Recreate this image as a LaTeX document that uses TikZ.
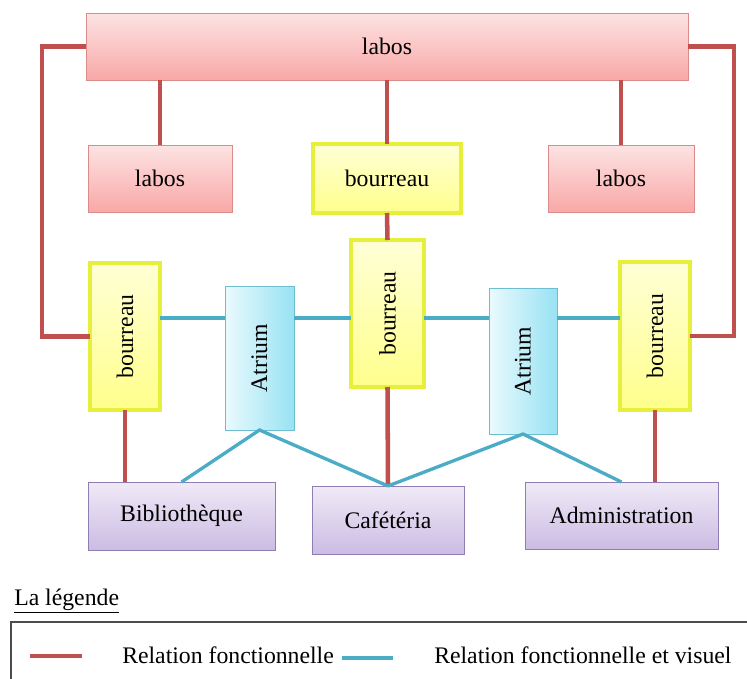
\documentclass[tikz,border=0pt]{standalone}
\usepackage{fontspec}
\setmainfont{Liberation Serif}
\usepackage{graphicx}
\usetikzlibrary{shadows}
\definecolor{rouge}{HTML}{C0504D}
\definecolor{bleu}{HTML}{4BACC6}
\definecolor{rose1}{HTML}{FDE3E3}
\definecolor{rose2}{HTML}{F8A8A7}
\definecolor{roseb}{HTML}{D98C8A}
\definecolor{jaune1}{HTML}{FFFFD6}
\definecolor{jaune2}{HTML}{FFFF8C}
\definecolor{jauneb}{HTML}{E6F03C}
\definecolor{cyan1}{HTML}{EAFAFD}
\definecolor{cyan2}{HTML}{98E2F3}
\definecolor{mauve1}{HTML}{F0EAF7}
\definecolor{mauve2}{HTML}{CBBCE3}
\definecolor{mauveb}{HTML}{8F7DB3}
\tikzset{
  texte/.style={font=\fontsize{17.8}{20}\selectfont},
  box/.style={texte, inner sep=0pt, outer sep=0pt,
    drop shadow={opacity=0.22, shadow xshift=1pt, shadow yshift=-1pt}},
  sz/.style 2 args={minimum width=#1*0.75pt, minimum height=#2*0.75pt},
  labo/.style={box, draw=roseb, line width=0.7pt, top color=rose1, bottom color=rose2},
  bourreau/.style={box, draw=jauneb, line width=2.4pt, top color=jaune1, bottom color=jaune2},
  atrium/.style={box, draw=bleu!80, line width=0.7pt, left color=cyan1, right color=cyan2},
  service/.style={box, draw=mauveb, line width=0.7pt, top color=mauve1, bottom color=mauve2},
  fonct/.style={draw=rouge, line width=3.4pt},
  visu/.style={draw=bleu, line width=2.5pt},
  cadre/.style={draw=black!70, line width=1.1pt},
}

\begin{document}
\begin{tikzpicture}[x=0.75pt, y=-0.75pt]
  \useasboundingbox (0,0) rectangle (747,679);
  % rangee du haut
  \node[labo, sz={602}{67}] (labos) at (387,46.5) {labos};
  \node[labo, sz={144}{67}] (labo1) at (160,178.5) {labos};
  \node[bourreau, sz={148}{69}] (bh) at (387,178.5) {bourreau};
  \node[labo, sz={146}{67}] (labo2) at (621,178.5) {labos};
  % rangee du milieu
  \node[bourreau, sz={70}{147}] (bg) at (125,336.5) {\rotatebox{90}{bourreau}};
  \node[atrium, sz={69}{144}] (atg) at (259.5,358) {\rotatebox{90}{Atrium}};
  \node[bourreau, sz={73}{147}] (bm) at (387.5,313.5) {\rotatebox{90}{bourreau}};
  \node[atrium, sz={68}{146}] (atd) at (523,361) {\rotatebox{90}{Atrium}};
  \node[bourreau, sz={70}{148}] (bd) at (655,336) {\rotatebox{90}{bourreau}};
  % services
  \node[service, sz={187}{68}] (biblio) at (181.5,516) {Bibliothèque};
  \node[service, sz={152}{68}] (cafet) at (388,520) {Cafétéria};
  \node[service, sz={193}{67}] (admin) at (621.5,515.5) {Administration};
  \coordinate (h) at (0,318);

  % relations fonctionnelles
  \draw[fonct] (labos.west) -- ++(-44,0) |- (bg.west);
  \draw[fonct] (labos.east) -- ++(46,0) |- (bd.east);
  \draw[fonct] (labo1.north) -- (labo1.north |- labos.south);
  \draw[fonct] (bh.north) -- (bh.north |- labos.south);
  \draw[fonct] (labo2.north) -- (labo2.north |- labos.south);
  \draw[fonct] (bh.south) -- (bm.north);
  \draw[fonct] (bm.south) -- (cafet.north);
  \draw[fonct] (bg.south) -- (bg.south |- biblio.north);
  \draw[fonct] (bd.south) -- (bd.south |- admin.north);

  % relations fonctionnelles et visuelles
  \draw[visu] (bg.east |- h) -- (atg.west |- h);
  \draw[visu] (atg.east |- h) -- (bm.west |- h);
  \draw[visu] (bm.east |- h) -- (atd.west |- h);
  \draw[visu] (atd.east |- h) -- (bd.west |- h);
  \draw[visu] (biblio.north) -- (atg.south) -- (cafet.north);
  \draw[visu] (cafet.north) -- (atd.south) -- (admin.north);

  % legende
  \node[texte, anchor=base west, inner sep=0pt] (titre) at (14,605) {\underline{La légende}};
  \draw[cadre] (748,622) -- (11,622) -- (11,680);
  \coordinate (r1) at (30,656);
  \coordinate (r2) at (82,656);
  \coordinate (b1) at (342,658);
  \coordinate (b2) at (393,658);
  \draw[fonct] (r1) -- (r2);
  \node[texte, anchor=base west, inner sep=0pt] (t1) at (122,663) {Relation fonctionnelle};
  \draw[visu] (b1) -- (b2);
  \node[texte, anchor=base west, inner sep=0pt] (t2) at (434,663) {Relation fonctionnelle et visuel};
\end{tikzpicture}
\end{document}
